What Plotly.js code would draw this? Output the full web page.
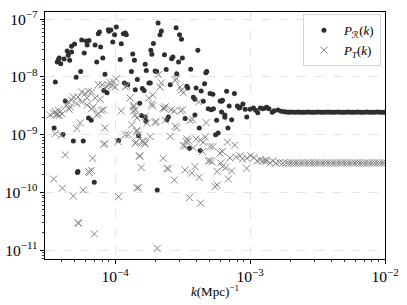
<!DOCTYPE html>
<html>
<head>
<meta charset="utf-8">
<script src="https://cdn.plot.ly/plotly-3.0.1.min.js"></script>
<style>html,body{margin:0;padding:0;background:#fff}#chart{width:407px;height:305px}</style>
</head>
<body>
<div id="chart"></div>
<script>
// ---- P_R(k): scattered low-k points ----
const kR = [1.02e-4,8.9e-5,9.3e-5,9.0e-5,7.65e-5,7.5e-5,9.9e-5,1.15e-4,1.21e-4,1.19e-4,
9.6e-5,5.65e-5,6.1e-5,6.4e-5,6.2e-5,7.1e-5,7.8e-5,1.11e-4,5.0e-5,4.75e-5,
4.41e-5,4.75e-5,5.9e-5,4.49e-5,1.35e-4,3.85e-5,3.8e-5,3.72e-5,3.95e-5,4.18e-5,
4.6e-5,7.3e-5,8.1e-5,1.09e-4,1.39e-4,1.67e-4,1.70e-4,1.32e-4,5.55e-5,8.4e-5,
5.14e-5,3.6e-5,1.17e-4,1.24e-4,1.46e-4,1.78e-4,8.25e-5,8.7e-5,1.41e-4,1.59e-4,
1.64e-4,4.27e-5,1.52e-4,6.35e-5,6.65e-5,1.57e-4,1.67e-4,1.69e-4,3.53e-5,4.1e-5,
4.9e-5,5.8e-5,5.3e-5,5.25e-5,7.0e-5,1.06e-4,1.49e-4,2.08e-4,2.83e-4,2.2e-4,
2.15e-4,3.0e-4,3.1e-4,1.92e-4,1.84e-4,1.87e-4,4.1e-4,2.32e-4,2.68e-4,2.62e-4,
3.15e-4,2.95e-4,1.98e-4,2.03e-4,2.39e-4,3.63e-4,2.86e-4,4.77e-4,4.7e-4,1.82e-4,
2.56e-4,3.4e-4,3.45e-4,3.98e-4,4.34e-4,4.6e-4,6.7e-4,7.65e-4,5.05e-4,5.3e-4,
3.8e-4,3.9e-4,4.5e-4,6.0e-4,6.15e-4,6.25e-4,7.0e-4,8.05e-4,8.3e-4,8.85e-4,
4.9e-4,5.15e-4,5.35e-4,9.2e-4,6.15e-4,6.5e-4,6.5e-4,9.45e-4,7.3e-4,5.65e-4,
3.3e-4,3.9e-4,2.48e-4,2.42e-4,4.2e-4,5.55e-4,5.8e-4,6.85e-4,2.05e-4,3.55e-4,
4.27e-4,8.43e-4,
1.00e-3,1.06e-3,1.10e-3,1.14e-3,1.19e-3,1.24e-3,1.30e-3,1.33e-3,1.38e-3,1.46e-3,
1.51e-3,1.61e-3,1.70e-3,1.79e-3];
const PR = [7.36e-8,6.6e-8,6.5e-8,6.2e-8,6.03e-8,5.6e-8,5.4e-8,5.6e-8,5.4e-8,5.8e-8,
4.04e-8,4.38e-8,4.2e-8,4.3e-8,3.59e-8,3.59e-8,3.31e-8,3.78e-8,3.73e-8,3.4e-8,
2.82e-8,2.71e-8,2.61e-8,2.38e-8,2.5e-8,2.13e-8,2.0e-8,1.82e-8,1.69e-8,2.05e-8,
1.95e-8,1.82e-8,2.13e-8,2.0e-8,1.95e-8,1.66e-8,1.3e-8,1.24e-8,1.24e-8,1.12e-8,
9.9e-9,8.2e-9,7.87e-9,7.3e-9,9.0e-9,7.87e-9,5.8e-9,5.3e-9,6.0e-9,6.3e-9,
5.8e-9,3.84e-9,3.5e-9,1.95e-9,1.78e-9,2.15e-9,2.03e-9,1.71e-9,1.31e-9,1.01e-9,
7.78e-10,7.78e-10,2.3e-10,2.2e-10,1.5e-10,7.9e-10,9.6e-10,8.6e-8,7.1e-8,6.27e-8,
5.4e-8,5.4e-8,4.5e-8,3.8e-8,2.9e-8,2.47e-8,2.9e-8,2.43e-8,2.22e-8,2.07e-8,
2.13e-8,1.82e-8,1.27e-8,1.25e-8,1.35e-8,1.36e-8,1.14e-8,1.25e-8,1.18e-8,7.87e-9,
7.3e-9,6.9e-9,6.45e-9,6.45e-9,5.72e-9,7.6e-9,5.65e-9,5.15e-9,5.15e-9,5.0e-9,
4.45e-9,4.1e-9,3.8e-9,3.84e-9,3.8e-9,3.95e-9,3.14e-9,3.14e-9,2.9e-9,3.4e-9,
2.82e-9,2.7e-9,2.82e-9,2.75e-9,2.47e-9,2.19e-9,2.0e-9,2.03e-9,1.82e-9,1.78e-9,
1.9e-9,2.19e-9,2.03e-9,1.82e-9,1.31e-9,1.0e-9,1.07e-9,1.31e-9,1.1e-10,5.8e-10,
5.3e-10,3.0e-9,
2.75e-9,2.9e-9,2.65e-9,2.4e-9,2.9e-9,2.8e-9,2.9e-9,3.0e-9,2.8e-9,2.45e-9,
2.6e-9,2.68e-9,2.55e-9,2.5e-9];

// ---- P_T(k): scattered low-k points ----
const kT = [1.017e-4,9.7e-5,9.18e-5,8.9e-5,9.45e-5,1.0e-4,8.65e-5,7.5e-5,8.0e-5,1.19e-4,
1.22e-4,5.65e-5,6.0e-5,6.35e-5,6.7e-5,7.1e-5,7.74e-5,4.9e-5,4.75e-5,4.5e-5,
4.35e-5,4.64e-5,4.55e-5,5.3e-5,5.2e-5,5.65e-5,6.2e-5,6.2e-5,3.8e-5,3.91e-5,
3.7e-5,4.05e-5,3.85e-5,3.3e-5,3.5e-5,3.6e-5,3.7e-5,6.9e-5,6.7e-5,8.2e-5,
7.9e-5,7.5e-5,7.3e-5,1.11e-4,1.37e-4,1.37e-4,1.29e-4,1.41e-4,1.45e-4,5.51e-5,
5.2e-5,8.4e-5,1.33e-4,1.45e-4,3.6e-5,3.98e-5,1.19e-4,1.25e-4,8.2e-5,8.4e-5,
1.05e-4,1.43e-4,1.59e-4,1.65e-4,4.27e-5,6.8e-5,1.51e-4,1.56e-4,6.35e-5,6.65e-5,
6.45e-5,3.5e-5,4.07e-5,4.9e-5,5.8e-5,1.06e-4,1.49e-4,5.3e-5,5.35e-5,7.0e-5,
2.1e-4,2.2e-4,2.15e-4,2.78e-4,2.85e-4,3.03e-4,3.1e-4,3.2e-4,1.9e-4,1.77e-4,
1.87e-4,1.89e-4,4.15e-4,2.27e-4,2.32e-4,2.35e-4,2.6e-4,2.74e-4,3.06e-4,3.15e-4,
1.37e-4,1.41e-4,1.67e-4,1.72e-4,1.98e-4,2.01e-4,2.35e-4,3.59e-4,3.76e-4,4.72e-4,
2.78e-4,2.86e-4,1.45e-4,1.49e-4,1.62e-4,1.67e-4,1.41e-4,1.82e-4,2.56e-4,3.4e-4,
3.5e-4,3.36e-4,3.98e-4,4.27e-4,4.5e-4,4.65e-4,3.2e-4,3.8e-4,5.05e-4,5.3e-4,
4.45e-4,6.8e-4,7.7e-4,6.0e-4,6.25e-4,7.1e-4,7.9e-4,8.43e-4,8.8e-4,9.45e-4,
1.01e-3,1.07e-3,1.13e-3,5.05e-4,5.2e-4,4.9e-4,6.05e-4,6.25e-4,6.6e-4,7.3e-4,
9.45e-4,5.7e-4,2.27e-4,3.9e-4,2.42e-4,2.48e-4,3.3e-4,3.7e-4,4.2e-4,2.74e-4,
6.9e-4,5.5e-4,5.7e-4,3.55e-4,4.3e-4,2.05e-4,1.53e-4,1.45e-4,3.3e-4,
1.19e-3,1.24e-3,1.31e-3,1.31e-3,1.41e-3,1.47e-3,1.56e-3,1.65e-3,1.75e-3];
const PT = [9.3e-9,8.2e-9,8.0e-9,7.3e-9,7.1e-9,6.7e-9,6.7e-9,7.4e-9,7.3e-9,6.7e-9,
7.1e-9,5.5e-9,5.15e-9,5.65e-9,5.5e-9,4.33e-9,4.1e-9,4.5e-9,3.95e-9,3.69e-9,
3.2e-9,3.02e-9,2.75e-9,4.5e-9,3.45e-9,3.69e-9,4.33e-9,3.25e-9,2.65e-9,2.47e-9,
2.3e-9,2.3e-9,2.15e-9,2.19e-9,2.35e-9,2.5e-9,2.19e-9,3.02e-9,2.82e-9,2.7e-9,
2.62e-9,2.3e-9,2.19e-9,2.58e-9,3.02e-9,2.58e-9,4.33e-9,2.19e-9,1.95e-9,1.6e-9,
1.27e-9,1.31e-9,1.49e-9,1.19e-9,1.04e-9,9.7e-10,1.0e-9,1.0e-9,6.8e-10,7.0e-10,
7.6e-10,7.4e-10,7.8e-10,7.15e-10,4.45e-10,3.9e-10,4.27e-10,2.7e-10,2.3e-10,2.4e-10,
2.2e-10,1.7e-10,1.18e-10,8.6e-11,1.1e-10,8.4e-11,1.2e-10,3.0e-11,2.9e-11,1.9e-11,
1.1e-8,7.9e-9,6.7e-9,8.8e-9,9.3e-9,6.7e-9,5.9e-9,5.3e-9,4.85e-9,4.3e-9,
3.4e-9,3.14e-9,3.69e-9,2.9e-9,2.82e-9,3.05e-9,2.7e-9,2.58e-9,2.58e-9,2.7e-9,
3.18e-9,2.68e-9,2.05e-9,1.58e-9,1.62e-9,1.7e-9,1.78e-9,1.78e-9,1.82e-9,1.62e-9,
1.4e-9,1.32e-9,1.13e-9,9.9e-10,7.6e-10,6.9e-10,7.1e-10,9.3e-10,9.3e-10,8.4e-10,
7.8e-10,7.6e-10,8.4e-10,8.1e-10,7.4e-10,9.1e-10,6.5e-10,5.9e-10,6.2e-10,6.2e-10,
5.1e-10,7.4e-10,6.6e-10,4.8e-10,5.1e-10,3.95e-10,4.1e-10,4.3e-10,3.8e-10,3.9e-10,
4.3e-10,4.0e-10,3.5e-10,3.55e-10,3.4e-10,3.5e-10,3.23e-10,2.8e-10,2.7e-10,2.35e-10,
2.6e-10,2.3e-10,3.9e-10,2.8e-10,2.6e-10,2.55e-10,2.44e-10,2.15e-10,1.83e-10,1.64e-10,
1.7e-10,1.26e-10,1.34e-10,8.1e-11,6.5e-11,1.07e-11,4.27e-10,1.2e-10,6.3e-10,
3.64e-10,3.5e-10,3.4e-10,3.64e-10,3.23e-10,3.5e-10,3.23e-10,3.3e-10,3.23e-10];

// ---- dense high-k tail (both spectra flatten) ----
const kTail = [1.85e-3,1.93e-3,2.01e-3,2.10e-3,2.19e-3,2.28e-3,2.38e-3,2.48e-3,2.59e-3,2.70e-3,
2.82e-3,2.94e-3,3.06e-3,3.19e-3,3.33e-3,3.47e-3,3.62e-3,3.78e-3,3.94e-3,4.11e-3,
4.28e-3,4.47e-3,4.66e-3,4.86e-3,5.07e-3,5.28e-3,5.51e-3,5.75e-3,5.99e-3,6.25e-3,
6.52e-3,6.80e-3,7.09e-3,7.39e-3,7.71e-3,8.04e-3,8.39e-3,8.75e-3,9.12e-3,9.51e-3,9.92e-3];
const PRtail = [2.47e-9,2.44e-9,2.46e-9,2.45e-9,2.44e-9,2.46e-9,2.45e-9,2.45e-9,2.44e-9,2.46e-9,
2.45e-9,2.45e-9,2.44e-9,2.46e-9,2.45e-9,2.45e-9,2.44e-9,2.46e-9,2.45e-9,2.45e-9,
2.44e-9,2.46e-9,2.45e-9,2.45e-9,2.44e-9,2.46e-9,2.45e-9,2.45e-9,2.44e-9,2.46e-9,
2.45e-9,2.45e-9,2.44e-9,2.46e-9,2.45e-9,2.45e-9,2.44e-9,2.46e-9,2.45e-9,2.45e-9,2.45e-9];
const PTtail = [3.25e-10,3.21e-10,3.24e-10,3.22e-10,3.23e-10,3.24e-10,3.22e-10,3.23e-10,3.23e-10,3.24e-10,
3.22e-10,3.23e-10,3.23e-10,3.24e-10,3.22e-10,3.23e-10,3.23e-10,3.24e-10,3.22e-10,3.23e-10,
3.23e-10,3.24e-10,3.22e-10,3.23e-10,3.23e-10,3.24e-10,3.22e-10,3.23e-10,3.23e-10,3.24e-10,
3.22e-10,3.23e-10,3.23e-10,3.24e-10,3.22e-10,3.23e-10,3.23e-10,3.24e-10,3.22e-10,3.23e-10,3.23e-10];

const legendR = '<i>P</i><sub><span style="font-family:DejaVu Sans">ℛ</span></sub>(<i>k</i>)';
const legendT = '<i>P</i><sub><i>T</i></sub>(<i>k</i>)';
const xTitle = '<i>k</i>(Mpc)<sup>−1</sup>';

const FONT = 'Liberation Serif, DejaVu Serif, serif';

const traces = [
  {
    x: kR.concat(kTail), y: PR.concat(PRtail), type: 'scatter', mode: 'markers', name: legendR,
    marker: {symbol: 'circle', size: 5, color: '#2e2e2e', line: {width: 0}}
  },
  {
    x: kT.concat(kTail), y: PT.concat(PTtail), type: 'scatter', mode: 'markers', name: legendT,
    marker: {symbol: 'x-thin-open', size: 7, color: '#858585', line: {width: 1, color: '#858585'}}
  }
];

const axisCommon = {
  type: 'log', dtick: 1, exponentformat: 'power',
  showline: true, linecolor: '#000', linewidth: 1, mirror: true,
  ticks: 'outside', ticklen: 4, tickwidth: 1, tickcolor: '#000',
  showgrid: true, gridcolor: '#dedede', gridwidth: 0.8, griddash: 'dash',
  zeroline: false,
  tickfont: {family: FONT, size: 12.5, color: '#000'},
  minor: {ticks: 'outside', ticklen: 2, tickwidth: 0.8, tickcolor: '#000', dtick: 'D1', showgrid: false}
};

const layout = {
  width: 407, height: 305,
  margin: {l: 45, r: 22, t: 12, b: 46},
  paper_bgcolor: '#fff', plot_bgcolor: '#fff',
  font: {family: FONT, size: 12.5, color: '#000'},
  showlegend: true,
  legend: {
    x: 0.988, y: 0.991, xanchor: 'right', yanchor: 'top',
    bgcolor: 'rgba(255,255,255,0.85)', bordercolor: '#d4d4d4', borderwidth: 1,
    font: {family: FONT, size: 13, color: '#000'}
  },
  xaxis: Object.assign({}, axisCommon, {range: [-4.52, -2]}),
  yaxis: Object.assign({}, axisCommon, {range: [-11.155, -6.874]}),
  annotations: [{
    text: xTitle, xref: 'paper', yref: 'paper', x: 0.5, y: -0.128,
    xanchor: 'center', yanchor: 'middle', showarrow: false,
    font: {family: FONT, size: 13, color: '#000'}
  }]
};

Plotly.newPlot('chart', traces, layout, {staticPlot: true, displayModeBar: false});
</script>
</body>
</html>
